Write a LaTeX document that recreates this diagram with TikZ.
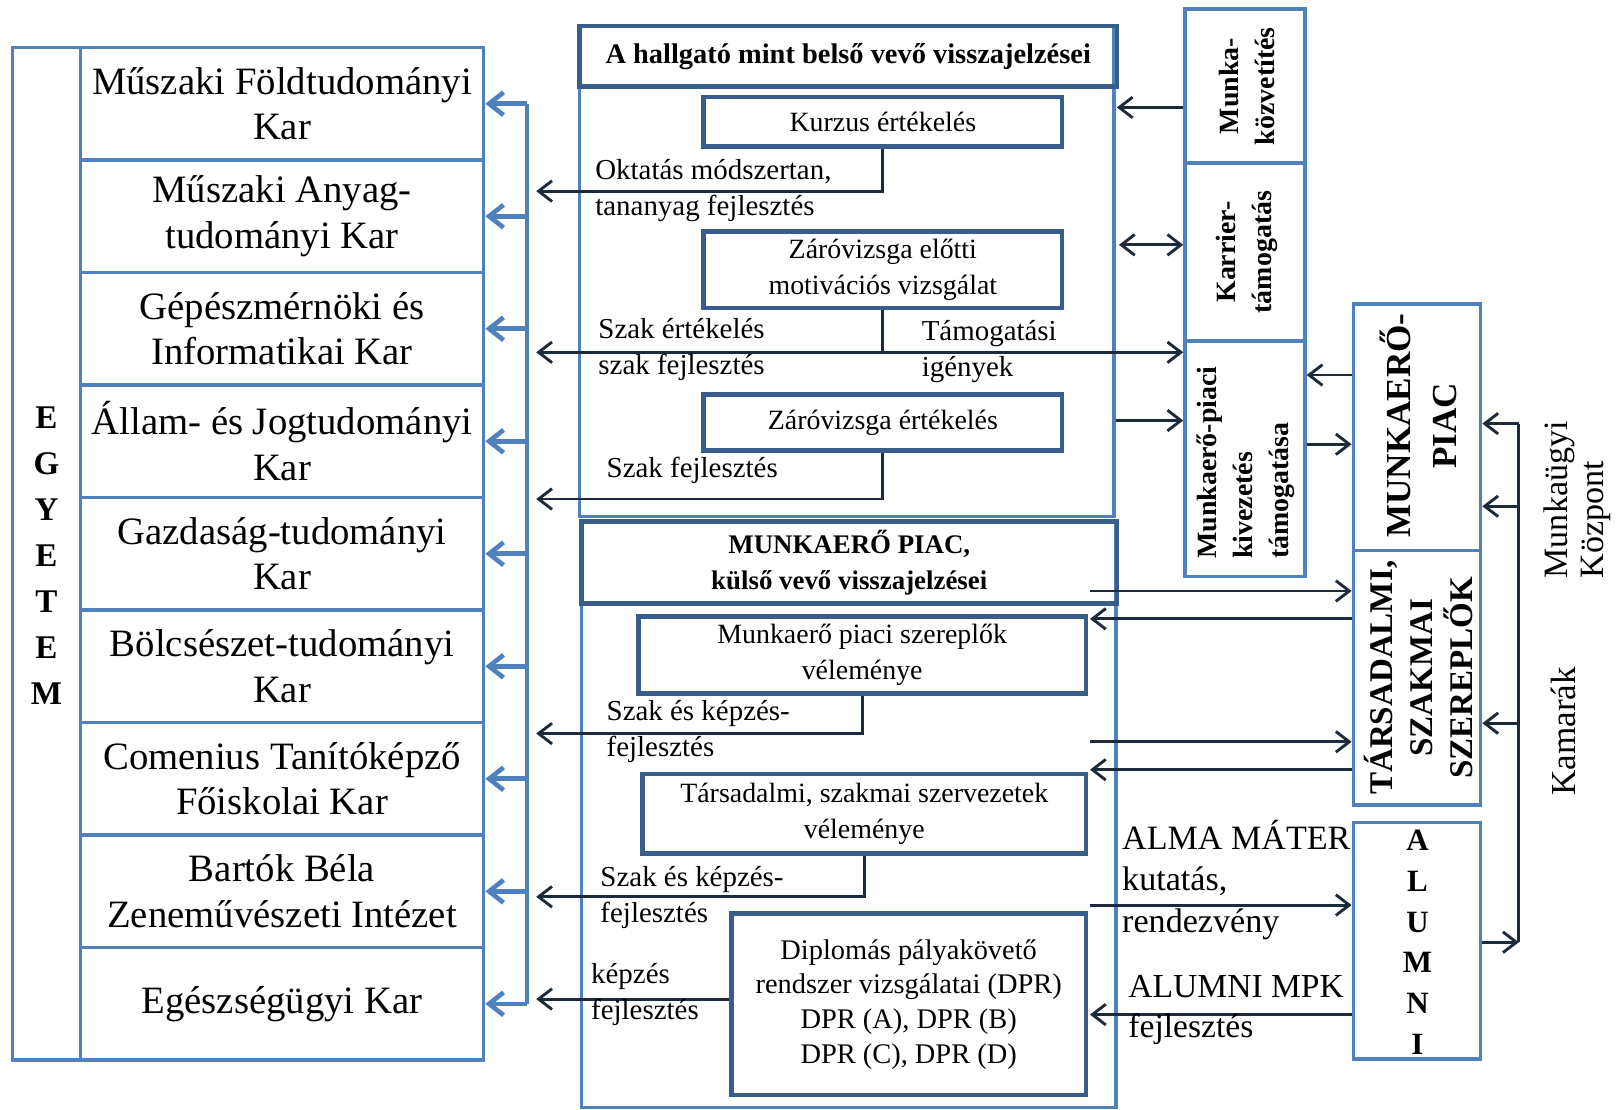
\documentclass[tikz,border=0pt]{standalone}
\usepackage{fontspec}
\setmainfont{Liberation Serif}
\usetikzlibrary{arrows.meta}
\definecolor{lblue}{HTML}{4F81BD}
\definecolor{dblue}{HTML}{385D8A}
\definecolor{dk}{HTML}{1C2A3A}
\begin{document}
\begin{tikzpicture}[x=1pt,y=-1pt,
  lbox/.style={draw=lblue, line width=3.5pt, inner sep=0pt},
  dbox/.style={draw=dblue, line width=4.5pt, inner sep=0pt, align=center, font=\fontsize{27}{35}\selectfont},
  fac/.style={draw=lblue, line width=3.5pt, minimum width=390pt, minimum height=108.9pt, inner sep=0pt, align=center, font=\fontsize{37.5}{44}\selectfont},
  lbl/.style={inner sep=0pt, align=left, font=\fontsize{28}{35}\selectfont},
  biglbl/.style={inner sep=0pt, align=left, font=\fontsize{33}{40}\selectfont},
  rotlbl/.style={inner sep=0pt, rotate=90, font=\bfseries\fontsize{27}{35}\selectfont},
  dkline/.style={draw=dk, line width=2.8pt},
  darrow/.style={draw=dk, line width=2.8pt, -{Straight Barb[length=13pt,width=20pt]}},
  darrowboth/.style={draw=dk, line width=2.8pt, {Straight Barb[length=13pt,width=20pt]}-{Straight Barb[length=13pt,width=20pt]}},
  bline/.style={draw=lblue, line width=4.5pt},
  barrow/.style={draw=lblue, line width=4.5pt, -{Straight Barb[length=14pt,width=22pt]}}
]
\useasboundingbox (0,0) rectangle (1568,1074);

% ---------------- University column
\node[lbox, minimum width=66pt, minimum height=980pt] (egy) at (45,536) {};
\node[inner sep=0pt, align=center, font=\bfseries\fontsize{32}{44.5}\selectfont] (egyT) at (45,538) {E\\G\\Y\\E\\T\\E\\M};

\node[fac] (fac1) at (273,100.4) {Műszaki Földtudományi\\Kar};
\node[fac] (fac2) at (273,209.3) {Műszaki Anyag-\\tudományi Kar};
\node[fac] (fac3) at (273,318.2) {Gépészmérnöki és\\Informatikai Kar};
\node[fac] (fac4) at (273,427.1) {Állam- és Jogtudományi\\Kar};
\node[fac] (fac5) at (273,536.0) {Gazdaság-tudományi\\Kar};
\node[fac] (fac6) at (273,644.9) {Bölcsészet-tudományi\\Kar};
\node[fac] (fac7) at (273,753.8) {Comenius Tanítóképző\\Főiskolai Kar};
\node[fac] (fac8) at (273,862.7) {Bartók Béla\\Zeneművészeti Intézet};
\node[fac] (fac9) at (273,971.6) {Egészségügyi Kar};

% blue bus
\coordinate (bx) at (510,0);
\draw[bline] (fac1.east -| bx) -- (fac9.east -| bx);
\foreach \k in {1,...,9} {\draw[barrow] (fac\k.east -| bx) -- (fac\k.east);}

% ---------------- Upper middle panel
\node[lbox, minimum width=517pt, minimum height=475pt] (up) at (819.5,262.5) {};
\node[dbox, minimum width=520pt, minimum height=59pt, font=\bfseries\fontsize{27.5}{35}\selectfont] (h1) at (821,54.5) {A hallgató mint belső vevő visszajelzései};
\node[dbox, minimum width=347pt, minimum height=48pt] (kurzus) at (854.5,118) {Kurzus értékelés};
\node[dbox, minimum width=347pt, minimum height=74pt] (zv1) at (854.5,261) {Záróvizsga előtti\\motivációs vizsgálat};
\node[dbox, minimum width=347pt, minimum height=54pt] (zv2) at (854.5,409) {Záróvizsga értékelés};

% ---------------- Lower middle panel
\node[lbox, minimum width=517pt, minimum height=567pt] (low) at (821.5,788.5) {};
\node[dbox, minimum width=518pt, minimum height=79pt, font=\bfseries\fontsize{26}{35}\selectfont] (h2) at (822,544.5) {MUNKAERŐ PIAC,\\külső vevő visszajelzései};
\node[dbox, minimum width=433pt, minimum height=74pt] (mpv) at (834.5,634) {Munkaerő piaci szereplők\\véleménye};
\node[dbox, minimum width=429pt, minimum height=77pt] (tszv) at (836.5,787.5) {Társadalmi, szakmai szervezetek\\véleménye};
\node[dbox, minimum width=343pt, minimum height=176pt, font=\fontsize{27.5}{33.5}\selectfont] (dpr) at (879.5,972) {Diplomás pályakövető\\rendszer vizsgálatai (DPR)\\DPR (A), DPR (B)\\DPR (C), DPR (D)};

% ---------------- Right boxes
\node[lbox, minimum width=116pt, minimum height=149pt] (mk) at (1205,83.5) {};
\node[rotlbl, align=center] (mkT) at (1207,83.5) {Munka-\\közvetítés};
\node[lbox, minimum width=116pt, minimum height=172pt] (kt) at (1205,244) {};
\node[rotlbl, align=center] (ktT) at (1207,244) {Karrier-\\támogatás};
\node[lbox, minimum width=116pt, minimum height=228pt] (kv) at (1205,444) {};
\node[rotlbl, align=left, anchor=west] (kvT) at (1206,541) {Munkaerő-piaci\\kivezetés\\támogatása};

\node[lbox, minimum width=123pt, minimum height=239pt] (mp2) at (1371.5,413.5) {};
\node[rotlbl, align=center, font=\bfseries\fontsize{34}{45}\selectfont] (mp2T) at (1373,412) {MUNKAERŐ-\\PIAC};
\node[lbox, minimum width=123pt, minimum height=246pt] (tsz2) at (1371.5,656) {};
\node[rotlbl, align=center, font=\bfseries\fontsize{32}{38.5}\selectfont] (tsz2T) at (1373,656) {TÁRSADALMI,\\SZAKMAI\\SZEREPLŐK};
\node[lbox, minimum width=123pt, minimum height=229pt] (alumni) at (1371.5,910.5) {};
\node[inner sep=0pt, align=center, font=\bfseries\fontsize{30}{39.5}\selectfont] (alumniT) at (1372,912) {A\\L\\U\\M\\N\\I};

% ---------------- connectors, middle to bus
\coordinate (t1) at (519,185);
\coordinate (t2) at (519,341);
\coordinate (t3) at (519,483);
\coordinate (t4) at (519,710);
\coordinate (t5) at (519,868);
\coordinate (t6) at (519,967);
\draw[darrow] (kurzus.south) |- (t1);
\draw[darrow] (zv1.south) |- (t2);
\draw[darrow] (zv1.south) |- (kv.west |- t2);
\draw[darrow] (zv2.south) |- (t3);
\draw[darrow] (mpv.south) |- (t4);
\draw[darrow] (tszv.south) |- (t5);
\draw[darrow] (dpr.west |- t6) -- (t6);

% labels
\node[lbl, anchor=west] (lab1) at (576,184.5) {Oktatás módszertan,\\tananyag fejlesztés};
\node[lbl, anchor=west] (lab2) at (579,338.5) {Szak értékelés\\szak fejlesztés};
\node[lbl, anchor=west] (lab3) at (892,340.5) {Támogatási\\igények};
\node[lbl, anchor=west] (lab4) at (587,455) {Szak fejlesztés};
\node[lbl, anchor=west] (lab5) at (587,708) {Szak és képzés-\\fejlesztés};
\node[lbl, anchor=west] (lab6) at (581,868.5) {Szak és képzés-\\fejlesztés};
\node[lbl, anchor=west] (lab7) at (572,962.5) {képzés\\fejlesztés};

% ---------------- right side connectors
\coordinate (r1) at (1081,104);
\coordinate (r2) at (1083,237);
\coordinate (r3) at (1080,407);
\coordinate (r4) at (0,363);
\coordinate (r5) at (0,430);
\draw[darrow] (mk.west |- r1) -- (r1);
\draw[darrowboth] (r2) -- (kt.west |- r2);
\draw[darrow] (r3) -- (kv.west |- r3);
\draw[darrow] (mp2.west |- r4) -- (kv.east |- r4);
\draw[darrow] (kv.east |- r5) -- (mp2.west |- r5);

\coordinate (l1) at (1055,572);
\coordinate (l2) at (1055,599);
\coordinate (l3) at (1055,718);
\coordinate (l4) at (1055,745);
\coordinate (l5) at (1055,876);
\coordinate (l6) at (1055,982);
\draw[darrow] (l1) -- (tsz2.west |- l1);
\draw[darrow] (tsz2.west |- l2) -- (l2);
\draw[darrow] (l3) -- (tsz2.west |- l3);
\draw[darrow] (tsz2.west |- l4) -- (l4);
\draw[darrow] (l5) -- (alumni.west |- l5);
\draw[darrow] (alumni.west |- l6) -- (l6);

\node[biglbl, anchor=west] (lab8) at (1086,851.5) {ALMA MÁTER\\kutatás,\\rendezvény};
\node[biglbl, anchor=west, font=\fontsize{32.5}{39}\selectfont] (lab9) at (1092,977.5) {ALUMNI MPK\\fejlesztés};

% right bus
\coordinate (rb1) at (1470,410);
\coordinate (rb2) at (1470,490);
\coordinate (rb3) at (1470,700);
\coordinate (rb4) at (1470,912);
\draw[dkline] (rb1) -- (rb4);
\draw[darrow] (rb1) -- (mp2.east |- rb1);
\draw[darrow] (rb2) -- (mp2.east |- rb2);
\draw[darrow] (rb3) -- (tsz2.east |- rb3);
\draw[darrow] (alumni.east |- rb4) -- (rb4);

\node[inner sep=0pt, rotate=90, anchor=west, align=left, font=\fontsize{33}{35}\selectfont] (mkp) at (1527,560) {Munkaügyi\\Központ};
\node[inner sep=0pt, rotate=90, font=\fontsize{34}{35}\selectfont] (kam) at (1513,708) {Kamarák};
\end{tikzpicture}
\end{document}
